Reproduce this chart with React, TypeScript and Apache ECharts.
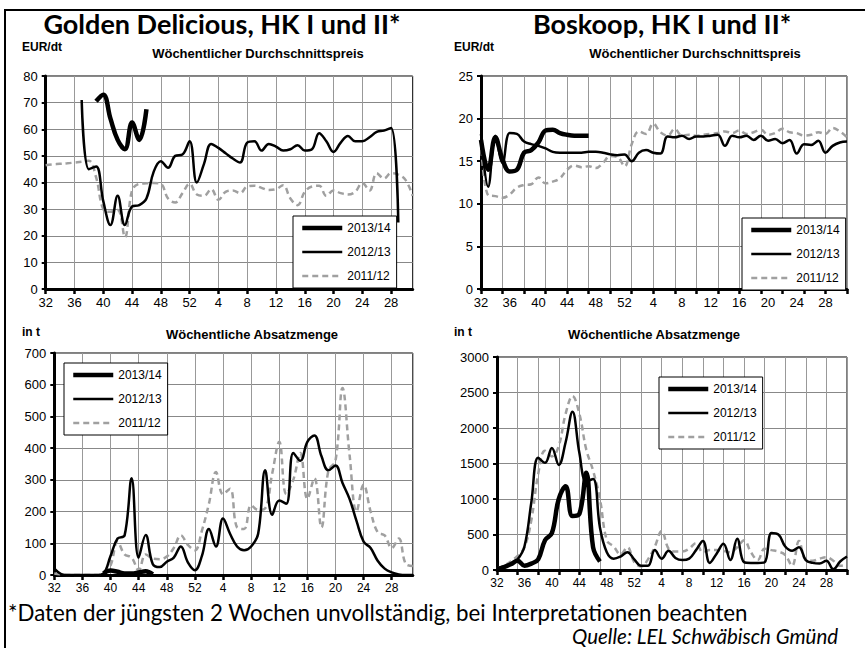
import React, { useEffect, useRef } from 'react';
import * as echarts from 'echarts';

const weeks = ['32','33','34','35','36','37','38','39','40','41','42','43','44','45','46','47','48','49','50','51','52',
  '1','2','3','4','5','6','7','8','9','10','11','12','13','14','15','16','17','18','19','20','21','22','23','24','25','26','27','28','29','30','31'];

const seriesNames = ['2013/14', '2012/13', '2011/12'];

// Golden Delicious – price EUR/dt
const gdPrice1314 = [null,null,null,null,null,null,null,70.5,73,64,56,52.5,62.5,56,67.5];
const gdPrice1213 = [null,null,null,null,null,71,45,46,33,24,35,24,31,31.5,34,44,48,45.5,50,50.5,55.5,40,47,54.5,53,51,49,47.5,55,55.5,52,54.5,53.5,52,52.5,54,52,52.5,58.5,55.5,51.5,55,57.5,55.5,55.5,57,59,59.5,60.5,25];
const gdPrice1112 = [46.5,46.8,47,47.2,47.5,47.8,48.2,42,30,29,29.7,19.5,37,39.5,39.7,39.8,39.5,34,32.5,36,39.5,35.5,35,37.5,33.5,36.5,37,36,38.5,38.8,38,37.2,37.5,39,34,31.5,36.5,38.5,38.8,35,37,36,35.5,36.5,39.8,37,43.5,41.5,43.5,43,41,35];

// Boskoop – price EUR/dt
const bkPrice1314 = [17.5,14,17.8,15.2,13.8,14,16,16.3,17.2,18.6,18.7,18.3,18.1,18,18,18];
const bkPrice1213 = [18.2,12,18,14.8,18.3,18.2,17.3,17,16.8,16.5,16.1,16,16,16,16,16.1,16.1,16,15.8,15.7,15.8,15,16,16.3,16,15.9,17.9,17.8,18,17.6,17.9,17.9,18,18.1,16.8,18,17.8,18,17.5,18,17.4,17.6,17.1,17.5,15.9,17,16.9,17.4,16,16.8,17.2,17.3];
const bkPrice1112 = [17.5,11,10.9,10.7,11.1,11.9,12.2,12.3,13.1,12.4,12.6,13,14,14.5,14.3,14.4,14.2,14.8,15.6,15.5,14.4,17,18.5,18.2,19.4,18.4,18,18.8,18,18.1,18,18.1,18.2,18.3,18.5,18.3,18.6,18.2,18.4,18.7,18.1,18.3,18.8,18.4,18.3,18,18.1,18.4,18.2,18.9,18.5,17.8];

// Golden Delicious – volume t
const gdVol1314 = [null,null,null,null,null,null,null,5,14,10,5,5,8,12,2];
const gdVol1213 = [20,3,0,0,0,0,0,5,60,115,125,305,55,126,35,25,42,55,90,40,15,60,145,90,178,130,90,78,90,130,330,190,235,225,385,360,420,440,375,330,345,290,240,170,105,85,45,20,8,2,0,0];
const gdVol1112 = [5,2,0,0,0,0,0,5,30,105,65,55,15,65,52,50,58,85,125,95,78,140,225,325,255,272,150,145,220,205,210,320,420,255,300,385,240,305,150,330,360,590,380,200,285,200,135,125,85,115,35,28];

// Boskoop – volume t
const bkVol1314 = [10,40,80,130,60,90,150,420,520,1000,1180,760,790,1370,320,120];
const bkVol1213 = [20,50,90,150,330,950,1580,1510,1720,1480,1800,2230,1650,1250,1280,600,250,160,190,250,150,60,60,280,160,270,170,140,160,280,410,100,230,370,140,440,110,100,100,110,520,500,330,270,320,140,100,90,130,10,120,190];
const bkVol1112 = [20,60,120,200,320,700,1350,1680,1600,1750,2200,2450,2200,1700,1400,1000,420,330,220,320,110,50,150,330,550,300,260,260,300,380,250,280,280,270,250,320,420,250,140,300,280,260,210,60,410,140,130,160,180,130,60,80];

const yTopLeft = { min: 0, max: 80, interval: 10 };
const yTopRight = { min: 0, max: 25, interval: 5 };
const yBottomLeft = { min: 0, max: 700, interval: 100 };
const yBottomRight = { min: 0, max: 3000, interval: 500 };

const AX_FONT = "'Liberation Sans', Arial, sans-serif";
const TITLE_FONT = "Lato, 'Open Sans', sans-serif";

const STYLES = [
  { color: '#000', width: 4.5, type: 'solid' as any },
  { color: '#000', width: 2.5, type: 'solid' as any },
  { color: '#a0a0a0', width: 2.5, type: [6, 4] as any },
];

function makeX(gridIndex: number, tickEvery: number, fontSize: number) {
  return {
    type: 'category',
    gridIndex,
    data: weeks,
    boundaryGap: false,
    axisLine: { show: true, lineStyle: { color: '#000', width: 3 } },
    axisTick: { show: true, interval: tickEvery - 1, length: 5, lineStyle: { color: '#000', width: 2.5 } },
    axisLabel: { interval: 3, color: '#000', fontSize, fontFamily: AX_FONT, margin: 7 },
    splitLine: { show: true, interval: tickEvery - 1, lineStyle: { color: '#999', width: 1 } },
  };
}

function makeY(gridIndex: number, r: { min: number; max: number; interval: number }) {
  return {
    type: 'value',
    gridIndex,
    min: r.min,
    max: r.max,
    interval: r.interval,
    axisLine: { show: true, lineStyle: { color: '#000', width: 3 } },
    axisTick: { show: true, length: 4, lineStyle: { color: '#000', width: 2 } },
    axisLabel: { color: '#000', fontSize: 13, fontFamily: AX_FONT, margin: 8, formatter: (v: number) => String(v) },
    splitLine: { show: true, lineStyle: { color: '#888', width: 1 } },
  };
}

function makeSeries(idx: number, d1314: any[], d1213: any[], d1112: any[]) {
  const base = { type: 'line', xAxisIndex: idx, yAxisIndex: idx, symbol: 'none', smooth: 0.4, connectNulls: false };
  return [d1314, d1213, d1112].map((data, k) => ({
    ...base,
    name: seriesNames[k],
    data,
    z: 5 - k,
    lineStyle: { ...STYLES[k] },
    itemStyle: { color: STYLES[k].color },
  }));
}

function makeLegend(left: number, top: number) {
  return {
    data: seriesNames.map((name, k) => ({
      name,
      itemStyle: { opacity: 0 },
      lineStyle: { color: STYLES[k].color, width: STYLES[k].width, type: STYLES[k].type },
    })),
    orient: 'vertical',
    left,
    top,
    itemWidth: 40,
    itemHeight: 10,
    itemGap: 12,
    padding: [6, 6, 6, 7],
    borderColor: '#000',
    borderWidth: 1,
    backgroundColor: '#fff',
    selectedMode: false,
    textStyle: { color: '#000', fontSize: 12, fontFamily: AX_FONT },
  };
}

function txt(text: string, x: number, y: number, fontSize: number, opts: any = {}) {
  return {
    type: 'text',
    x,
    y,
    z: 100,
    style: {
      text,
      fill: '#000',
      fontSize,
      fontFamily: opts.fontFamily || AX_FONT,
      fontWeight: opts.fontWeight || 'normal',
      fontStyle: opts.fontStyle || 'normal',
      textAlign: opts.align || 'left',
      textVerticalAlign: 'middle',
    },
  };
}

export default function App() {
  const ref = useRef<HTMLDivElement>(null);
  useEffect(() => {
    const chart = echarts.init(ref.current!, null, { renderer: 'svg' });
    const option: any = {
      animation: false,
      backgroundColor: '#fff',
      grid: [
        { left: 45.7, top: 76, width: 367, height: 213, show: true, borderColor: '#000', borderWidth: 1 },
        { left: 481, top: 76, width: 366, height: 213, show: true, borderColor: '#000', borderWidth: 1 },
        { left: 54.3, top: 353, width: 358.5, height: 222, show: true, borderColor: '#000', borderWidth: 1 },
        { left: 497, top: 357, width: 350, height: 213, show: true, borderColor: '#000', borderWidth: 1 },
      ],
      xAxis: [makeX(0, 4, 13), makeX(1, 3, 13), makeX(2, 4, 12), makeX(3, 3, 12)],
      yAxis: [makeY(0, yTopLeft), makeY(1, yTopRight), makeY(2, yBottomLeft), makeY(3, yBottomRight)],
      legend: [makeLegend(293, 216), makeLegend(742, 218), makeLegend(64, 363), makeLegend(659, 377)],
      series: [
        ...makeSeries(0, gdPrice1314, gdPrice1213, gdPrice1112),
        ...makeSeries(1, bkPrice1314, bkPrice1213, bkPrice1112),
        ...makeSeries(2, gdVol1314, gdVol1213, gdVol1112),
        ...makeSeries(3, bkVol1314, bkVol1213, bkVol1112),
      ],
      graphic: [
        { type: 'line', z: 100, shape: { x1: 4, y1: 10, x2: 865, y2: 10 }, style: { stroke: '#000', lineWidth: 2 } },
        { type: 'line', z: 100, shape: { x1: 5, y1: 9, x2: 5, y2: 648 }, style: { stroke: '#000', lineWidth: 2 } },
        txt('Golden Delicious, HK I und II*', 222, 23, 27, { fontFamily: TITLE_FONT, fontWeight: 'bold', align: 'center' }),
        txt('Boskoop, HK I und II*', 662, 23, 27, { fontFamily: TITLE_FONT, fontWeight: 'bold', align: 'center' }),
        txt('EUR/dt', 22, 47, 12, { fontWeight: 'bold' }),
        txt('EUR/dt', 454, 47, 12, { fontWeight: 'bold' }),
        txt('Wöchentlicher Durchschnittspreis', 258, 53, 13, { fontWeight: 'bold', align: 'center' }),
        txt('Wöchentlicher Durchschnittspreis', 695, 53, 13, { fontWeight: 'bold', align: 'center' }),
        txt('in t', 22, 332, 12, { fontWeight: 'bold' }),
        txt('in t', 454, 332, 12, { fontWeight: 'bold' }),
        txt('Wöchentliche Absatzmenge', 252, 334, 13, { fontWeight: 'bold', align: 'center' }),
        txt('Wöchentliche Absatzmenge', 654, 334, 13, { fontWeight: 'bold', align: 'center' }),
        txt('*Daten der jüngsten 2 Wochen unvollständig, bei Interpretationen beachten', 8, 612, 22.3, { fontFamily: TITLE_FONT }),
        txt('Quelle: LEL Schwäbisch Gmünd', 572, 636, 20.5, { fontFamily: TITLE_FONT, fontStyle: 'italic' }),
      ],
    };
    chart.setOption(option);
    return () => chart.dispose();
  }, []);
  return <div ref={ref} style={{ position: 'fixed', left: 0, top: 0, width: 865, height: 648, background: '#fff' }} />;
}
